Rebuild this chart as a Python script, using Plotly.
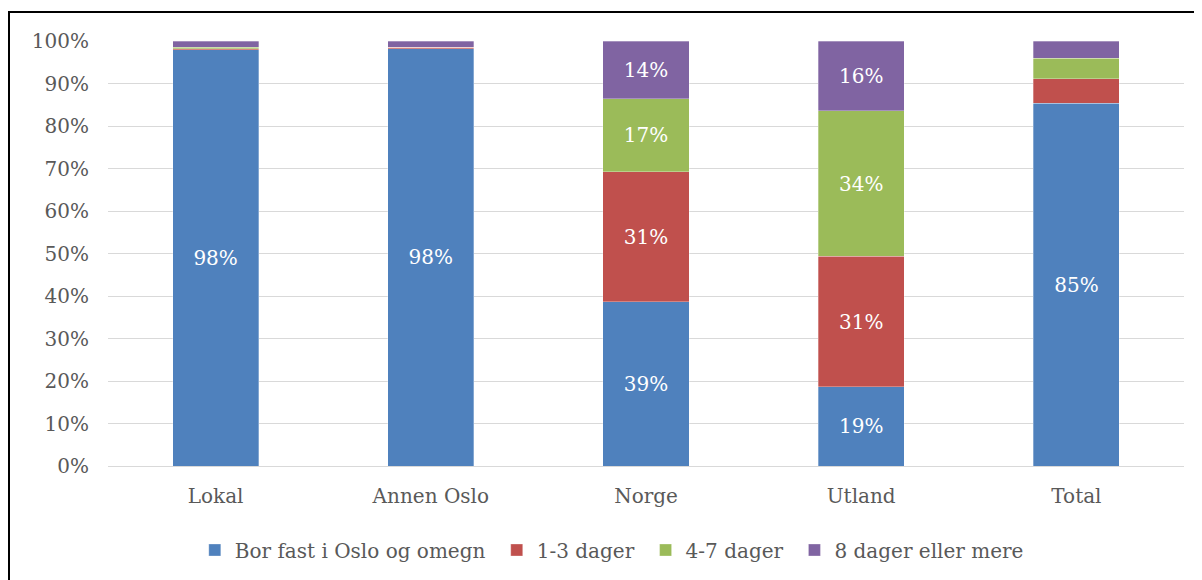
import plotly.graph_objects as go

categories = ["Lokal", "Annen Oslo", "Norge", "Utland", "Total"]
series_names = ["Bor fast i Oslo og omegn", "1-3 dager", "4-7 dager", "8 dager eller mere"]
bor_fast = [97.9, 98.2, 38.6, 18.6, 85.4]
dager_1_3 = [0.3, 0.3, 30.6, 30.7, 5.7]
dager_4_7 = [0.3, 0.0, 17.2, 34.3, 4.9]
dager_8 = [1.5, 1.5, 13.6, 16.4, 4.0]
colors = ["#4f81bd", "#c0504d", "#9bbb59", "#8064a2"]
tick_vals = [0, 10, 20, 30, 40, 50, 60, 70, 80, 90, 100]
tick_text = [f"{v}%" for v in tick_vals]

FONT = "DejaVu Serif"
FS = 20
W, H = 1194, 572
L, T = 100, 33
PW, PH = 1076, 426

fig = go.Figure()
for name, vals, col in zip(series_names, [bor_fast, dager_1_3, dager_4_7, dager_8], colors):
    fig.add_trace(go.Bar(
        x=categories, y=vals, name=name + "\u00a0",
        marker=dict(color=col, line=dict(color="rgba(255,255,255,0.5)", width=0.6)),
        text=[f"{v:.0f}%" if v >= 10 else "" for v in vals],
        textposition="inside", insidetextanchor="middle",
        textfont=dict(color="white", size=FS, family=FONT),
        width=0.4,
    ))

fig.update_layout(
    barmode="stack",
    width=W, height=H,
    margin=dict(l=L, r=W - L - PW, t=T, b=H - T - PH),
    plot_bgcolor="white", paper_bgcolor="white",
    font=dict(family=FONT, color="#595959", size=FS),
    xaxis=dict(showgrid=False, showline=True, linecolor="#d9d9d9", linewidth=1,
               tickfont=dict(size=FS, family=FONT, color="#595959"), ticks="",
               ticklabelstandoff=12),
    yaxis=dict(range=[0, 100], tickvals=tick_vals, ticktext=tick_text,
               showgrid=True, gridcolor="#d9d9d9", gridwidth=1, zeroline=False,
               tickfont=dict(size=FS, family=FONT, color="#595959"), ticklabelstandoff=18),
    legend=dict(orientation="h", x=0.471, xanchor="center", y=(459 - 542) / PH, yanchor="middle",
                font=dict(size=FS, family=FONT, color="#595959"), traceorder="normal",
                itemwidth=30),
    showlegend=True,
    uniformtext=dict(mode="show", minsize=10),
)
fig.add_shape(type="rect", xref="paper", yref="paper",
              x0=(1 - L) / PW, x1=(1215 - L) / PW,
              y0=(459 - 600) / PH, y1=(459 - 4) / PH,
              line=dict(color="black", width=2), fillcolor="rgba(0,0,0,0)", layer="above")
fig.write_html("out.html")
